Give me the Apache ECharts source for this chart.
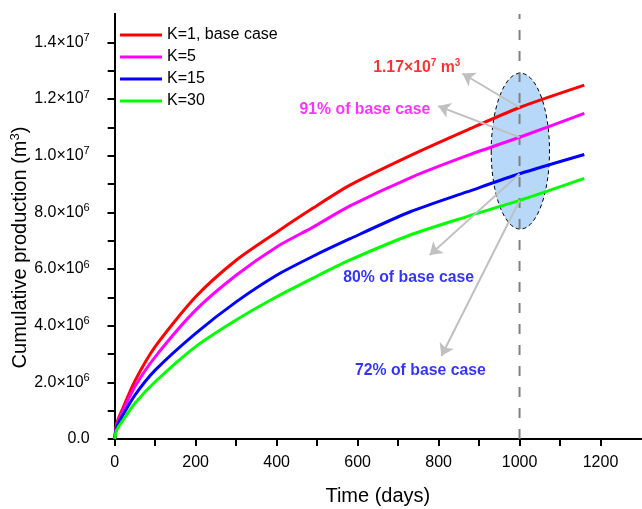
<!DOCTYPE html>
<html>
<head>
<meta charset="utf-8">
<script src="https://cdn.jsdelivr.net/npm/echarts@6/dist/echarts.min.js"></script>
<style>
  html, body { margin: 0; padding: 0; background: #fff; }
  #chart { width: 642px; height: 509px; }
</style>
</head>
<body>
<div id="chart"></div>
<script>
// Simulated cumulative production for four fracture-permeability cases
const days = [0, 5, 18, 50, 100, 200, 300, 400, 490, 580, 730, 870, 1000, 1160];
const prodK1  = [0, 0.55e6, 1.02e6, 2.05e6, 3.26e6, 5.02e6, 6.31e6, 7.30e6, 8.15e6, 8.95e6, 10.0e6, 10.9e6, 11.7e6, 12.49e6];
const prodK5  = [0, 0.50e6, 0.92e6, 1.85e6, 2.90e6, 4.55e6, 5.78e6, 6.78e6, 7.48e6, 8.22e6, 9.22e6, 10.0e6, 10.65e6, 11.49e6];
const prodK15 = [0, 0.42e6, 0.79e6, 1.55e6, 2.43e6, 3.73e6, 4.84e6, 5.78e6, 6.45e6, 7.06e6, 8.02e6, 8.72e6, 9.36e6, 10.04e6];
const prodK30 = [0, 0.32e6, 0.61e6, 1.26e6, 2.02e6, 3.26e6, 4.20e6, 5.02e6, 5.68e6, 6.31e6, 7.20e6, 7.85e6, 8.42e6, 9.20e6];
const seriesNames = ['K=1, base case', 'K=5', 'K=15', 'K=30'];
const seriesColors = ['#ff0000', '#ff00ff', '#0000ff', '#00ff00'];

// Axis ticks and labels
const xMajorTicks = [0, 200, 400, 600, 800, 1000, 1200];
const xMinorTicks = [100, 300, 500, 700, 900, 1100];
const xTopTicks = [100, 200, 300, 400, 500, 600, 700, 800, 900, 1000, 1100, 1200];
const yMajorTicks = [0, 2e6, 4e6, 6e6, 8e6, 1e7, 1.2e7, 1.4e7];
const yMinorTicks = [1e6, 3e6, 5e6, 7e6, 9e6, 1.1e7, 1.3e7];
const yRightTicks = [1e6, 2e6, 3e6, 4e6, 5e6, 6e6, 7e6, 8e6, 9e6, 1e7, 1.1e7, 1.2e7, 1.3e7, 1.4e7];

// Comparison at day 1000
const markDay = 1000;
const ellipseCenter = [1002, 1.016e7];
const ellipseRadius = [72, 2.75e6];
const arrowTips = [[859, 1.29e7], [799, 1.175e7], [778, 6.49e6], [807, 2.93e6]];
const noteTexts = ['{b|1.17×10}{s|7}{b| m}{s|3}', '{b|91% of base case}', '{b|80% of base case}', '{b|72% of base case}'];
const notePositions = [[746, 1.309e7], [618, 1.164e7], [726, 5.68e6], [755, 2.40e6]];
const noteColors = ['#ff0000', '#ff00ff', '#0000ff', '#0000ff'];

const FONT = 'Liberation Sans, Arial, Helvetica, sans-serif';
const allSeries = [prodK1, prodK5, prodK15, prodK30];
const markIdx = days.indexOf(markDay);

function sciLabel(v) {
  if (v === 0) return '{b|0.0}';
  const e = Math.floor(Math.log10(v) + 1e-9);
  const m = (v / Math.pow(10, e)).toFixed(1);
  return '{b|' + m + '×10}{s|' + e + '}';
}

const chart = echarts.init(document.getElementById('chart'), null, { renderer: 'canvas' });

const lineSeries = allSeries.map((vals, i) => ({
  name: seriesNames[i],
  type: 'line',
  xAxisIndex: 0,
  yAxisIndex: 0,
  data: days.map((d, j) => [d, vals[j]]),
  symbol: 'none',
  smooth: 0.25,
  lineStyle: { color: seriesColors[i], width: 3 },
  itemStyle: { color: seriesColors[i] },
  z: 4
}));

const option = {
  animation: false,
  backgroundColor: '#fff',
  textStyle: { fontFamily: FONT },
  grid: { left: 114.7, right: 1, top: 14, bottom: 70, containLabel: false, outerBoundsMode: 'none' },
  legend: {
    orient: 'vertical',
    left: 115,
    top: 19,
    icon: 'rect',
    itemWidth: 42,
    itemHeight: 3,
    itemGap: 0,
    data: seriesNames,
    textStyle: { fontSize: 16, color: '#000', fontFamily: FONT, lineHeight: 22 }
  },
  xAxis: [
    {
      type: 'value', min: 0, max: 1300, position: 'bottom',
      axisLine: { lineStyle: { color: '#000', width: 2 } },
      axisTick: { customValues: xMajorTicks, length: 7, lineStyle: { color: '#000', width: 2 } },
      axisLabel: { customValues: xMajorTicks, fontSize: 16, color: '#000', margin: 16, fontFamily: FONT,
                   formatter: v => String(v) },
      splitLine: { show: false },
      name: 'Time (days)', nameLocation: 'middle', nameGap: 47, nameMoveOverlap: false,
      nameTextStyle: { fontSize: 20, color: '#000', fontFamily: FONT }
    },
    {
      type: 'value', min: 0, max: 1300, position: 'bottom',
      axisLine: { show: false },
      axisTick: { customValues: xMinorTicks, length: 4, lineStyle: { color: '#000', width: 1.5 } },
      axisLabel: { show: false }, splitLine: { show: false }
    },
    {
      type: 'value', min: 0, max: 1300, position: 'top',
      axisLine: { lineStyle: { color: '#000', width: 2 } },
      axisTick: { inside: true, customValues: xTopTicks, length: 7, lineStyle: { color: '#000', width: 2 } },
      axisLabel: { show: false }, splitLine: { show: false }
    }
  ],
  yAxis: [
    {
      type: 'value', min: 0, max: 1.5e7, position: 'left',
      axisLine: { lineStyle: { color: '#000', width: 2 } },
      axisTick: { customValues: yMajorTicks, length: 7, lineStyle: { color: '#000', width: 2 } },
      axisLabel: {
        customValues: yMajorTicks, margin: 25, color: '#000',
        formatter: sciLabel,
        rich: {
          b: { fontSize: 16, color: '#000', fontFamily: FONT },
          s: { fontSize: 11, color: '#000', fontFamily: FONT, padding: [0, 0, 9, 0] }
        }
      },
      splitLine: { show: false },
      name: '{n|Cumulative production (m}{s|3}{n|)}',
      nameLocation: 'middle', nameGap: 82, nameRotate: 90, nameMoveOverlap: false,
      nameTextStyle: {
        padding: [0, 42, 0, 0],
        rich: {
          n: { fontSize: 20, color: '#000', fontFamily: FONT },
          s: { fontSize: 13, color: '#000', fontFamily: FONT, padding: [0, 0, 11, 0] }
        }
      }
    },
    {
      type: 'value', min: 0, max: 1.5e7, position: 'left',
      axisLine: { show: false },
      axisTick: { customValues: yMinorTicks, length: 4, lineStyle: { color: '#000', width: 1.5 } },
      axisLabel: { show: false }, splitLine: { show: false }
    },
    {
      type: 'value', min: 0, max: 1.5e7, position: 'right',
      axisLine: { lineStyle: { color: '#000', width: 2 } },
      axisTick: { inside: true, customValues: yRightTicks, length: 7, lineStyle: { color: '#000', width: 2 } },
      axisLabel: { show: false }, splitLine: { show: false }
    }
  ],
  series: [
    {
      name: 'comparison zone',
      type: 'custom',
      xAxisIndex: 0, yAxisIndex: 0,
      data: [ellipseCenter],
      silent: true,
      z: 1,
      renderItem: function (params, api) {
        const c = api.coord([api.value(0), api.value(1)]);
        const s = api.size(ellipseRadius);
        return {
          type: 'ellipse',
          shape: { cx: c[0], cy: c[1], rx: s[0], ry: s[1] },
          style: { fill: '#b7d8f8', stroke: '#000', lineWidth: 1, lineDash: [4, 3] }
        };
      }
    },
    {
      name: 'day marker',
      type: 'line',
      xAxisIndex: 0, yAxisIndex: 0,
      data: [[markDay, 0], [markDay, 1.5e7]],
      symbol: 'none',
      silent: true,
      lineStyle: { color: '#808080', width: 2, type: [10, 11] },
      z: 2
    },
    ...lineSeries,
    {
      name: 'pointers',
      type: 'lines',
      coordinateSystem: 'cartesian2d',
      xAxisIndex: 0, yAxisIndex: 0,
      silent: true,
      symbol: ['none', 'arrow'],
      symbolSize: 12,
      lineStyle: { color: '#c0c0c0', width: 2, opacity: 1, curveness: 0 },
      data: arrowTips.map((tip, i) => ({ coords: [[markDay, allSeries[i][markIdx]], tip] })),
      z: 5
    },
    {
      name: 'notes',
      type: 'scatter',
      xAxisIndex: 0, yAxisIndex: 0,
      symbolSize: 0,
      silent: true,
      z: 6,
      data: notePositions.map((p, i) => ({
        value: p,
        label: {
          show: true,
          position: 'inside',
          formatter: noteTexts[i],
          rich: {
            b: { fontSize: 15.8, fontWeight: 'bold', color: noteColors[i], fontFamily: FONT },
            s: { fontSize: 10, fontWeight: 'bold', color: noteColors[i], fontFamily: FONT, padding: [0, 0, 9, 0] }
          }
        }
      }))
    }
  ]
};

chart.setOption(option);
</script>
</body>
</html>
